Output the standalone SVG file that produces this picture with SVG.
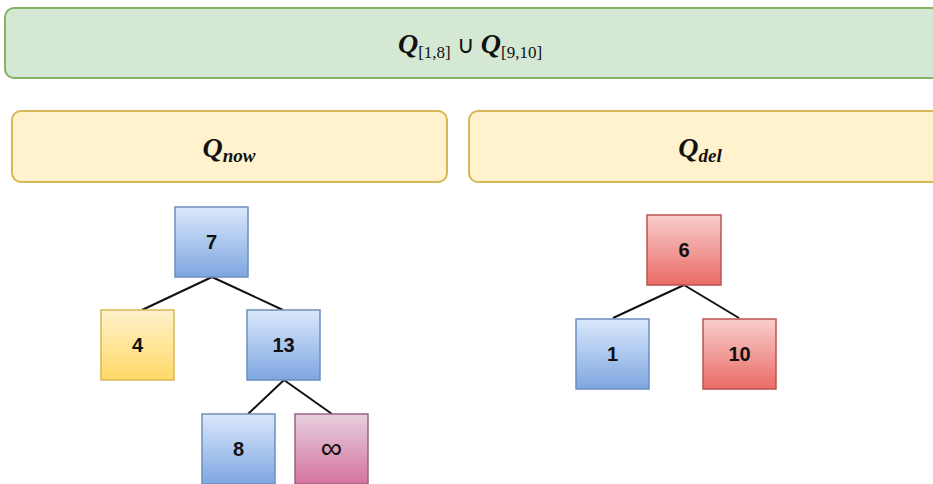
<svg xmlns="http://www.w3.org/2000/svg" width="933" height="484" viewBox="0 0 933 484">
<defs>
<linearGradient id="gBlue" x1="0" y1="0" x2="0" y2="1"><stop offset="0" stop-color="#dae8fc"/><stop offset="1" stop-color="#7ea6e0"/></linearGradient>
<linearGradient id="gYellow" x1="0" y1="0" x2="0" y2="1"><stop offset="0" stop-color="#fff2cc"/><stop offset="1" stop-color="#ffd966"/></linearGradient>
<linearGradient id="gRed" x1="0" y1="0" x2="0" y2="1"><stop offset="0" stop-color="#f8cecc"/><stop offset="1" stop-color="#ea6b66"/></linearGradient>
<linearGradient id="gPink" x1="0" y1="0" x2="0" y2="1"><stop offset="0" stop-color="#e6d0de"/><stop offset="1" stop-color="#d5739d"/></linearGradient>
</defs>
<style>
.blue{fill:url(#gBlue);stroke:#6c8ebf;stroke-width:1.5}
.yellow{fill:url(#gYellow);stroke:#d6b656;stroke-width:1.5}
.red{fill:url(#gRed);stroke:#b85450;stroke-width:1.5}
.pink{fill:url(#gPink);stroke:#996185;stroke-width:1.5}
.green{fill:#d5e8d4;stroke:#82b366;stroke-width:2}
.head{fill:#fff2cc;stroke:#d6b656;stroke-width:2}
.lbl{font-family:"Liberation Sans",Arial,sans-serif;font-weight:bold;font-size:20px;fill:#111;text-anchor:middle}
.math{font-family:"Liberation Serif","Times New Roman",serif;font-size:28px;fill:#111;text-anchor:middle}
.edge{stroke:#111;stroke-width:2;fill:none}
</style>
<g id="union">
<rect class="green" x="5" y="8" width="940" height="70" rx="9"/>
<text class="math" x="470" y="53"><tspan font-style="italic" font-weight="bold">Q</tspan><tspan font-size="17" dy="5">[1,8]</tspan><tspan dy="-5" font-size="24"> ∪ </tspan><tspan font-style="italic" font-weight="bold">Q</tspan><tspan font-size="17" dy="5">[9,10]</tspan></text>
</g>
<g id="qnow">
<rect class="head" x="12" y="111" width="435" height="71" rx="9"/>
<text class="math" x="229" y="157"><tspan font-style="italic" font-weight="bold">Q</tspan><tspan font-size="19" font-style="italic" font-weight="bold" dy="5">now</tspan></text>
</g>
<g id="qdel">
<rect class="head" x="469" y="111" width="475" height="71" rx="9"/>
<text class="math" x="700" y="157"><tspan font-style="italic" font-weight="bold">Q</tspan><tspan font-size="19" font-style="italic" font-weight="bold" dy="5">del</tspan></text>
</g>
<g id="edges">
<line class="edge" x1="212" y1="277" x2="142" y2="310"/>
<line class="edge" x1="212" y1="277" x2="283" y2="310"/>
<line class="edge" x1="284" y1="380" x2="248" y2="414"/>
<line class="edge" x1="284" y1="380" x2="332" y2="414"/>
<line class="edge" x1="684" y1="285" x2="613" y2="318"/>
<line class="edge" x1="684" y1="285" x2="739" y2="318"/>
</g>
<g id="n7"><rect class="blue" x="175" y="207" width="73" height="70"/><text class="lbl" x="211.5" y="249">7</text></g>
<g id="n4"><rect class="yellow" x="101" y="310" width="73" height="70"/><text class="lbl" x="137.5" y="352">4</text></g>
<g id="n13"><rect class="blue" x="247" y="310" width="73" height="70"/><text class="lbl" x="283.5" y="352">13</text></g>
<g id="n8"><rect class="blue" x="202" y="414" width="73" height="70"/><text class="lbl" x="238.5" y="456">8</text></g>
<g id="ninf"><rect class="pink" x="295" y="414" width="73" height="70"/><text class="lbl" x="331.5" y="458" style="font-size:30px;font-weight:normal">∞</text></g>
<g id="n6"><rect class="red" x="647" y="215" width="74" height="70"/><text class="lbl" x="684" y="257">6</text></g>
<g id="n1"><rect class="blue" x="576" y="319" width="73" height="70"/><text class="lbl" x="612.5" y="361">1</text></g>
<g id="n10"><rect class="red" x="703" y="319" width="73" height="70"/><text class="lbl" x="739.5" y="361">10</text></g>
</svg>
